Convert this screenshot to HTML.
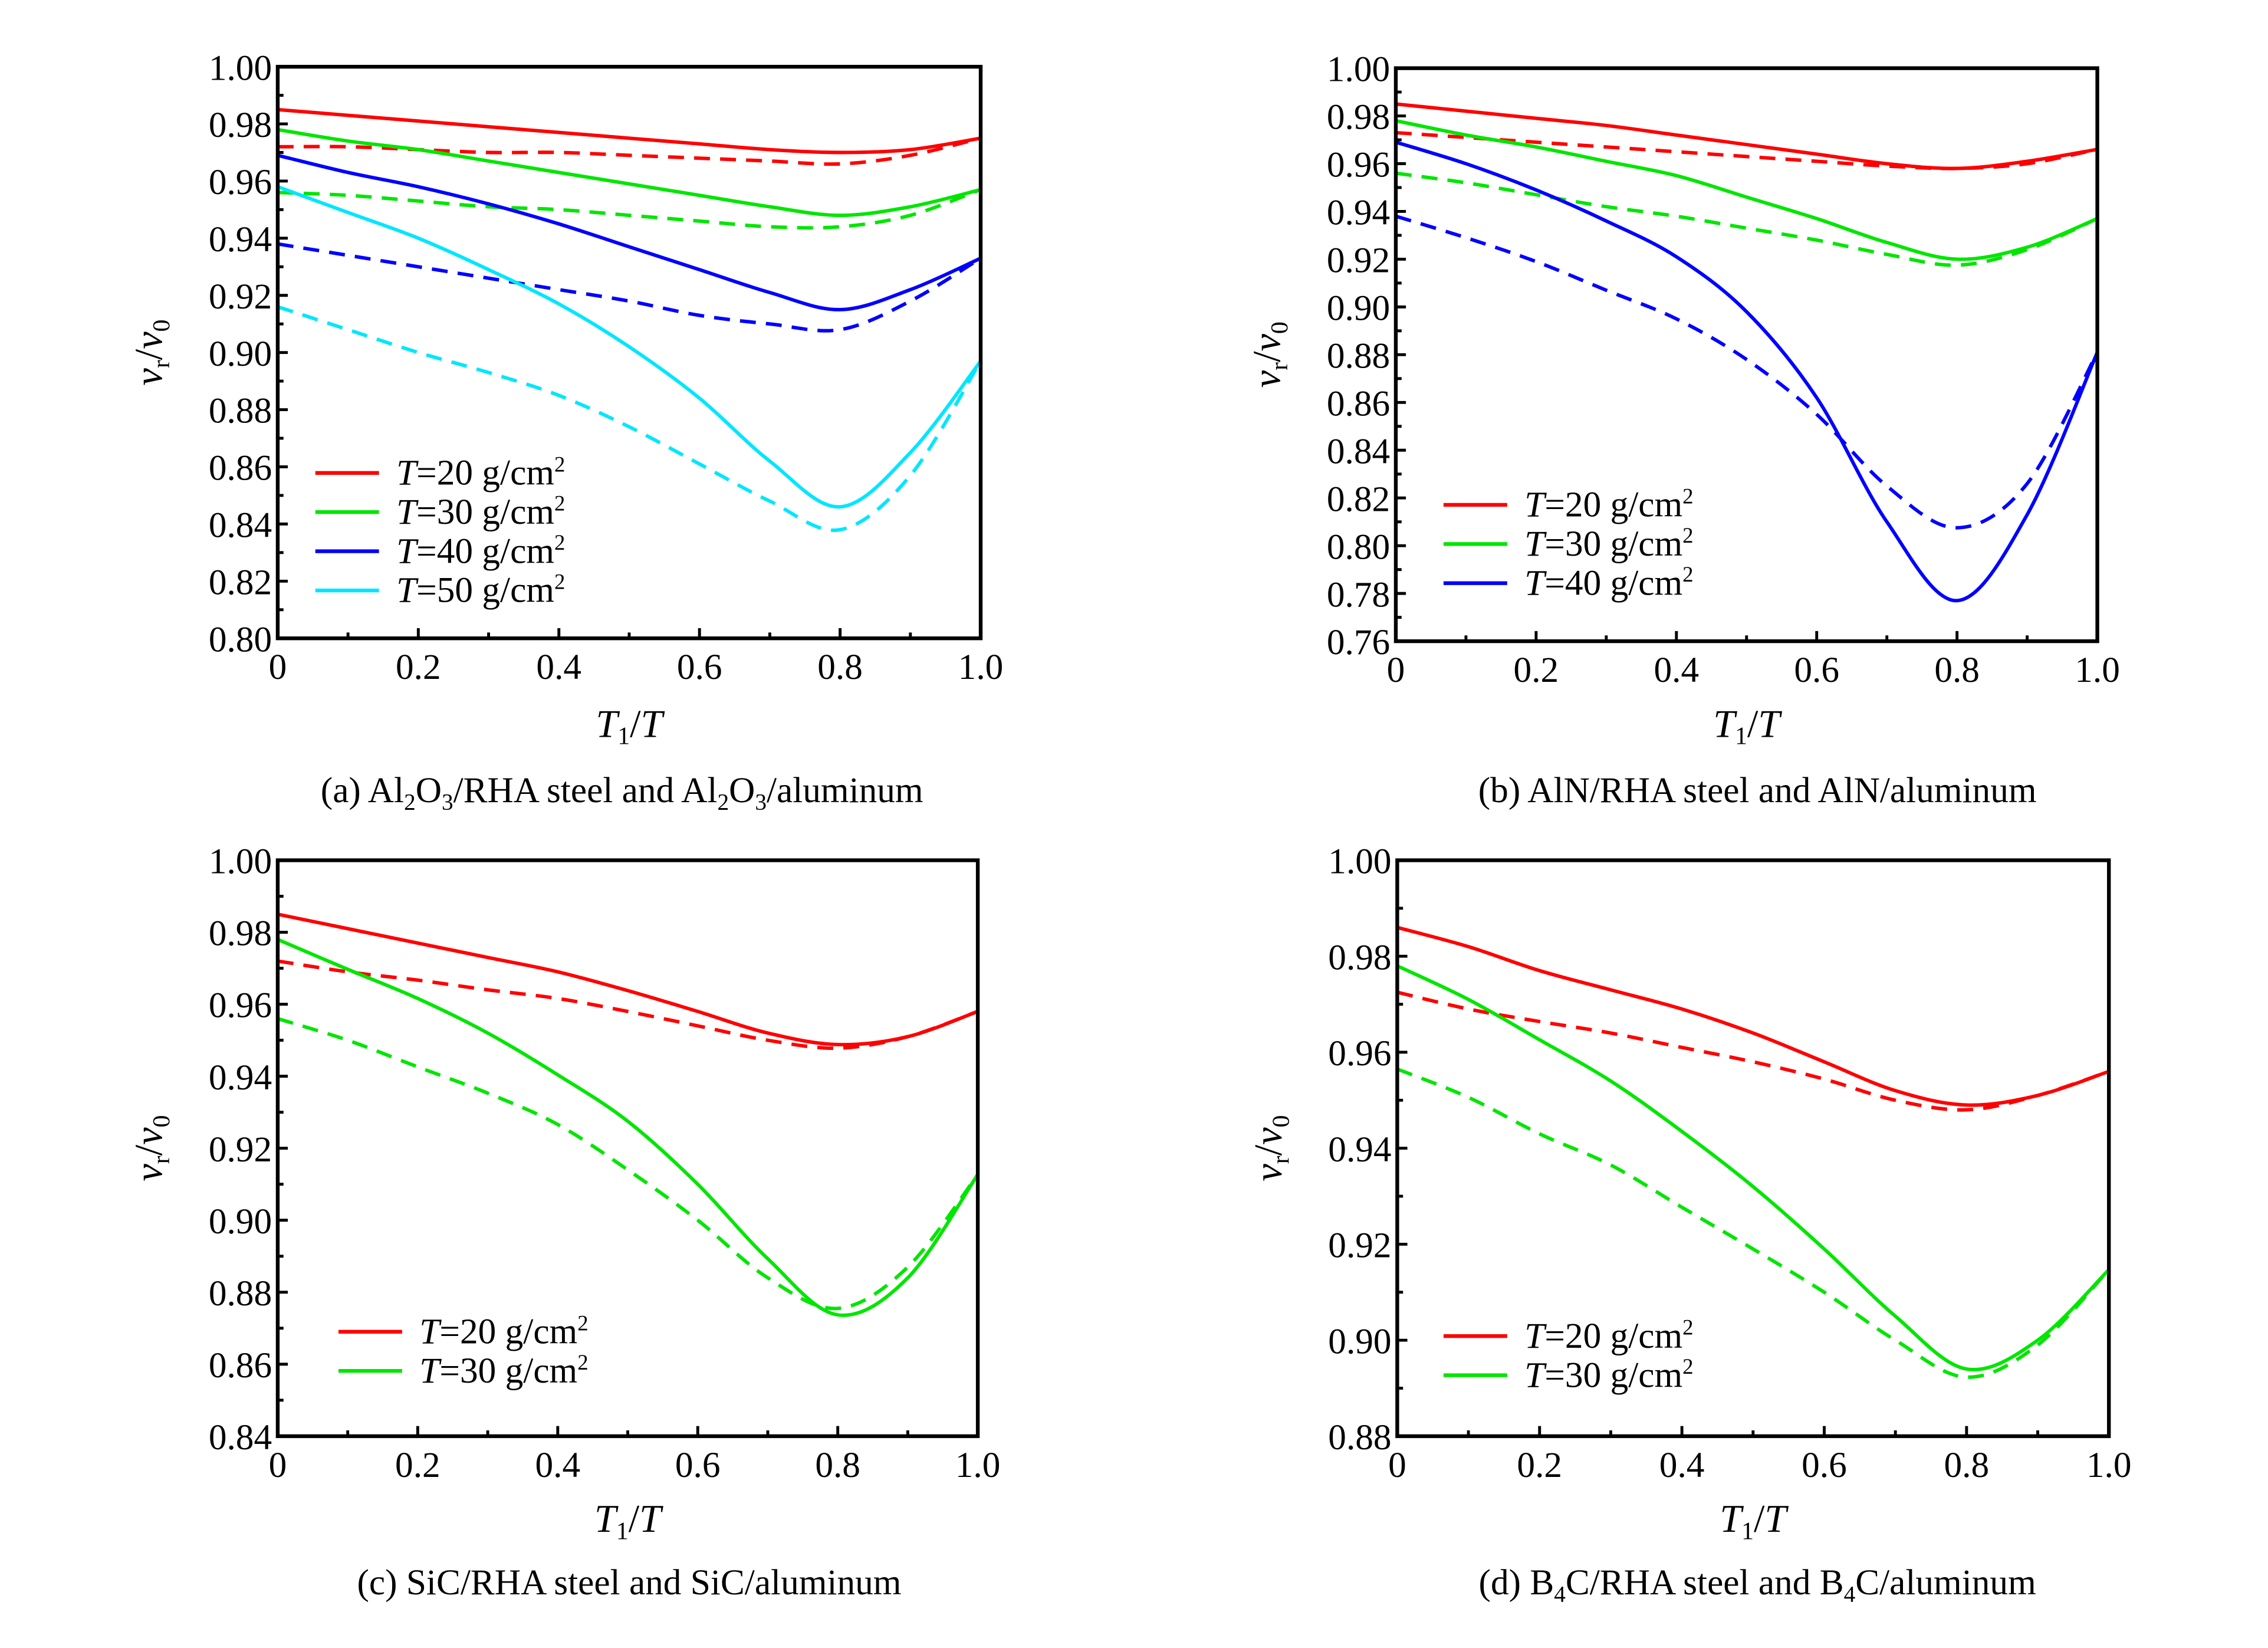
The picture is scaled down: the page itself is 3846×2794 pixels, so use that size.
<!DOCTYPE html>
<html><head><meta charset="utf-8"><style>
html,body{margin:0;padding:0;background:#fff;}
svg{display:block;}
svg text{font-family:"Liberation Serif","DejaVu Serif",serif !important;}
</style></head><body>
<svg id="fig" xmlns="http://www.w3.org/2000/svg" width="3846" height="2794" viewBox="0 0 1568 1136" preserveAspectRatio="none"></svg>
<script>
// shared x samples
const xs = [0,0.1,0.2,0.3,0.4,0.5,0.6,0.7,0.8,0.9,1.0];
const xTickLabels = ["0","0.2","0.4","0.6","0.8","1.0"];
// (a) Al2O3
const aRed = [0.985,0.983,0.981,0.979,0.977,0.975,0.973,0.971,0.970,0.971,0.975];
const aRedD = [0.972,0.972,0.971,0.970,0.970,0.969,0.968,0.967,0.966,0.969,0.975];
const aGreen = [0.978,0.974,0.971,0.967,0.963,0.959,0.955,0.951,0.948,0.951,0.957];
const aGreenD = [0.956,0.955,0.953,0.951,0.950,0.948,0.946,0.944,0.944,0.948,0.957];
const aBlue = [0.969,0.963,0.958,0.952,0.945,0.937,0.929,0.921,0.915,0.922,0.933];
const aBlueD = [0.938,0.934,0.930,0.926,0.922,0.918,0.913,0.910,0.908,0.918,0.933];
const aCyan = [0.958,0.949,0.940,0.929,0.917,0.902,0.884,0.862,0.846,0.865,0.897];
const aCyanD = [0.916,0.908,0.900,0.893,0.885,0.874,0.861,0.848,0.838,0.857,0.897];
const aYTicks = ["0.80","0.82","0.84","0.86","0.88","0.90","0.92","0.94","0.96","0.98","1.00"];
// (b) AlN
const bRed = [0.985,0.982,0.979,0.976,0.972,0.968,0.964,0.960,0.958,0.961,0.966];
const bRedD = [0.973,0.971,0.969,0.967,0.965,0.963,0.961,0.959,0.958,0.960,0.966];
const bGreen = [0.978,0.972,0.967,0.961,0.955,0.946,0.937,0.927,0.920,0.925,0.937];
const bGreenD = [0.956,0.952,0.947,0.942,0.938,0.933,0.928,0.922,0.9175,0.924,0.937];
const bBlue = [0.969,0.960,0.949,0.936,0.921,0.898,0.862,0.810,0.777,0.813,0.881];
const bBlueD = [0.938,0.929,0.919,0.907,0.895,0.878,0.855,0.825,0.8075,0.826,0.881];
const bYTicks = ["0.76","0.78","0.80","0.82","0.84","0.86","0.88","0.90","0.92","0.94","0.96","0.98","1.00"];
// (c) SiC
const cRed = [0.985,0.981,0.977,0.973,0.969,0.9638,0.958,0.952,0.9488,0.951,0.958];
const cRedD = [0.972,0.969,0.9667,0.964,0.9616,0.958,0.954,0.950,0.9478,0.951,0.958];
const cGreen = [0.978,0.9697,0.9616,0.952,0.9404,0.9275,0.910,0.8893,0.8737,0.884,0.9127];
const cGreenD = [0.956,0.950,0.9426,0.9353,0.9266,0.914,0.900,0.884,0.8755,0.887,0.9127];
const cYTicks = ["0.84","0.86","0.88","0.90","0.92","0.94","0.96","0.98","1.00"];
// (d) B4C
const dRed = [0.986,0.982,0.977,0.973,0.969,0.964,0.958,0.952,0.949,0.951,0.956];
const dRedD = [0.9725,0.969,0.9664,0.964,0.961,0.958,0.9544,0.950,0.948,0.951,0.956];
const dGreen = [0.978,0.971,0.9626,0.954,0.9435,0.932,0.919,0.905,0.894,0.900,0.9147];
const dGreenD = [0.9565,0.9506,0.943,0.9365,0.9277,0.919,0.910,0.900,0.8923,0.899,0.9147];
const dYTicks = ["0.88","0.90","0.92","0.94","0.96","0.98","1.00"];

const NS="http://www.w3.org/2000/svg";
const svg=document.getElementById('fig');
const SERIF='"Liberation Serif", "DejaVu Serif", serif';
function mk(tag,attrs,parent){const e=document.createElementNS(NS,tag);for(const k in attrs)e.setAttribute(k,attrs[k]);if(tag==='text'){e.setAttribute('font-family',SERIF);e.style.fontFamily=SERIF;}(parent||svg).appendChild(e);return e;}

function smoothPath(pts){
  let d=`M${pts[0][0]},${pts[0][1]}`;
  for(let i=0;i<pts.length-1;i++){
    const p0=pts[Math.max(0,i-1)],p1=pts[i],p2=pts[i+1],p3=pts[Math.min(pts.length-1,i+2)];
    const c1=[p1[0]+(p2[0]-p0[0])/6,p1[1]+(p2[1]-p0[1])/6];
    const c2=[p2[0]-(p3[0]-p1[0])/6,p2[1]-(p3[1]-p1[1])/6];
    d+=` C${c1[0]},${c1[1]} ${c2[0]},${c2[1]} ${p2[0]},${p2[1]}`;
  }
  return d;
}

function panel(cfg){
  const g=mk('g',{});
  
  
  const {x0,x1,y0,y1,ymin,ymax}=cfg;
  const sx=v=>x0+(x1-x0)*v;
  const sy=v=>y1-(y1-y0)*(v-ymin)/(ymax-ymin);
  cfg.series.forEach(s=>{
    const pts=xs.map((x,i)=>[sx(x),sy(s.data[i])]);
    const p=mk('path',{d:smoothPath(pts),fill:'none',stroke:s.color,'stroke-width':2.4,'stroke-dasharray':s.dash?'11 7':'none'},g);
    
    
  });
  const fr=mk('rect',{x:x0,y:y0,width:x1-x0,height:y1-y0,fill:'none',stroke:'#000','stroke-width':2.6},g);
  
  
  for(let i=0;i<=10;i++){
    const x=sx(i/10),len=(i%2==0)?7:4;
    mk('line',{x1:x,x2:x,y1:y1,y2:y1-len,stroke:'#000','stroke-width':2},g);
  }
  xTickLabels.forEach((t,i)=>{
    const tx=mk('text',{x:sx(i*0.2),y:y1+28,'font-size':25,'text-anchor':'middle'},g);
    tx.textContent=t;
    
    
  });
  const n=cfg.yticks.length-1;
  for(let i=0;i<=2*n;i++){
    const v=ymin+(ymax-ymin)*i/(2*n),y=sy(v),len=(i%2==0)?7:4;
    mk('line',{x1:x0,x2:x0+len,y1:y,y2:y,stroke:'#000','stroke-width':2},g);
  }
  cfg.yticks.forEach((t,i)=>{
    const v=ymin+(ymax-ymin)*i/n;
    const tx=mk('text',{x:x0-4,y:sy(v)+9,'font-size':25,'text-anchor':'end'},g);
    tx.textContent=t;
    
    
  });
  const xt=mk('text',{x:(x0+x1)/2,y:cfg.xtY,'font-size':27,'text-anchor':'middle','font-style':'italic'},g);
  xt.innerHTML='T<tspan font-size="17" dy="5" font-style="normal">1</tspan><tspan dy="-5" font-style="normal">/</tspan>T';
  
  
  const cy=(y0+y1)/2;
  const yt=mk('text',{x:0,y:0,'font-size':27,'text-anchor':'middle','font-style':'italic',transform:`translate(${x0-80},${cy}) rotate(-90)`},g);
  yt.innerHTML='v<tspan font-size="17" dy="5" font-style="normal">r</tspan><tspan dy="-5" font-style="normal">/</tspan>v<tspan font-size="17" dy="5" font-style="normal">0</tspan>';
  
  
  const cp=mk('text',{x:cfg.capX,y:cfg.capY,'font-size':25,'text-anchor':'middle'},g);
  cp.innerHTML=cfg.caption;
  
  
  cfg.legend.forEach((l,i)=>{
    const y=cfg.legY+i*27;
    const ln=mk('line',{x1:cfg.legX,x2:cfg.legX+44,y1:y,y2:y,stroke:l.color,'stroke-width':2.6},g);
    
    
    const tx=mk('text',{x:cfg.legX+56,y:y+8,'font-size':25},g);
    tx.innerHTML='<tspan font-style="italic">T</tspan>='+l.t+' g/cm<tspan font-size="15" dy="-9">2</tspan>';
    
    
  });
}
const R='#ff0000',G='#00e600',B='#0000ff',C='#00e6ff';
panel({name:'panel-a',x0:192,x1:678,y0:46,y1:440,ymin:0.80,ymax:1.00,yticks:aYTicks,xtY:508,capX:430,capY:553,
  caption:'(a) Al<tspan font-size="16" dy="5">2</tspan><tspan dy="-5">O</tspan><tspan font-size="16" dy="5">3</tspan><tspan dy="-5">/RHA steel and Al</tspan><tspan font-size="16" dy="5">2</tspan><tspan dy="-5">O</tspan><tspan font-size="16" dy="5">3</tspan><tspan dy="-5">/aluminum</tspan>',
  series:[{id:'a-t20-steel',data:aRed,color:R},{id:'a-t20-aluminum',data:aRedD,color:R,dash:1},
    {id:'a-t30-steel',data:aGreen,color:G},{id:'a-t30-aluminum',data:aGreenD,color:G,dash:1},
    {id:'a-t40-steel',data:aBlue,color:B},{id:'a-t40-aluminum',data:aBlueD,color:B,dash:1},
    {id:'a-t50-steel',data:aCyan,color:C},{id:'a-t50-aluminum',data:aCyanD,color:C,dash:1}],
  legX:218,legY:326,legend:[{color:R,t:'20'},{color:G,t:'30'},{color:B,t:'40'},{color:C,t:'50'}]});
panel({name:'panel-b',x0:965,x1:1450,y0:47,y1:442,ymin:0.76,ymax:1.00,yticks:bYTicks,xtY:508,capX:1215,capY:553,
  caption:'(b) AlN/RHA steel and AlN/aluminum',
  series:[{id:'b-t20-steel',data:bRed,color:R},{id:'b-t20-aluminum',data:bRedD,color:R,dash:1},
    {id:'b-t30-steel',data:bGreen,color:G},{id:'b-t30-aluminum',data:bGreenD,color:G,dash:1},
    {id:'b-t40-steel',data:bBlue,color:B},{id:'b-t40-aluminum',data:bBlueD,color:B,dash:1}],
  legX:998,legY:348,legend:[{color:R,t:'20'},{color:G,t:'30'},{color:B,t:'40'}]});
panel({name:'panel-c',x0:192,x1:676,y0:593,y1:990,ymin:0.84,ymax:1.00,yticks:cYTicks,xtY:1056,capX:435,capY:1099,
  caption:'(c) SiC/RHA steel and SiC/aluminum',
  series:[{id:'c-t20-steel',data:cRed,color:R},{id:'c-t20-aluminum',data:cRedD,color:R,dash:1},
    {id:'c-t30-steel',data:cGreen,color:G},{id:'c-t30-aluminum',data:cGreenD,color:G,dash:1}],
  legX:234,legY:918,legend:[{color:R,t:'20'},{color:G,t:'30'}]});
panel({name:'panel-d',x0:966,x1:1458,y0:593,y1:990,ymin:0.88,ymax:1.00,yticks:dYTicks,xtY:1056,capX:1215,capY:1099,
  caption:'(d) B<tspan font-size="16" dy="5">4</tspan><tspan dy="-5">C/RHA steel and B</tspan><tspan font-size="16" dy="5">4</tspan><tspan dy="-5">C/aluminum</tspan>',
  series:[{id:'d-t20-steel',data:dRed,color:R},{id:'d-t20-aluminum',data:dRedD,color:R,dash:1},
    {id:'d-t30-steel',data:dGreen,color:G},{id:'d-t30-aluminum',data:dGreenD,color:G,dash:1}],
  legX:998,legY:921,legend:[{color:R,t:'20'},{color:G,t:'30'}]});
</script>
</body></html>
